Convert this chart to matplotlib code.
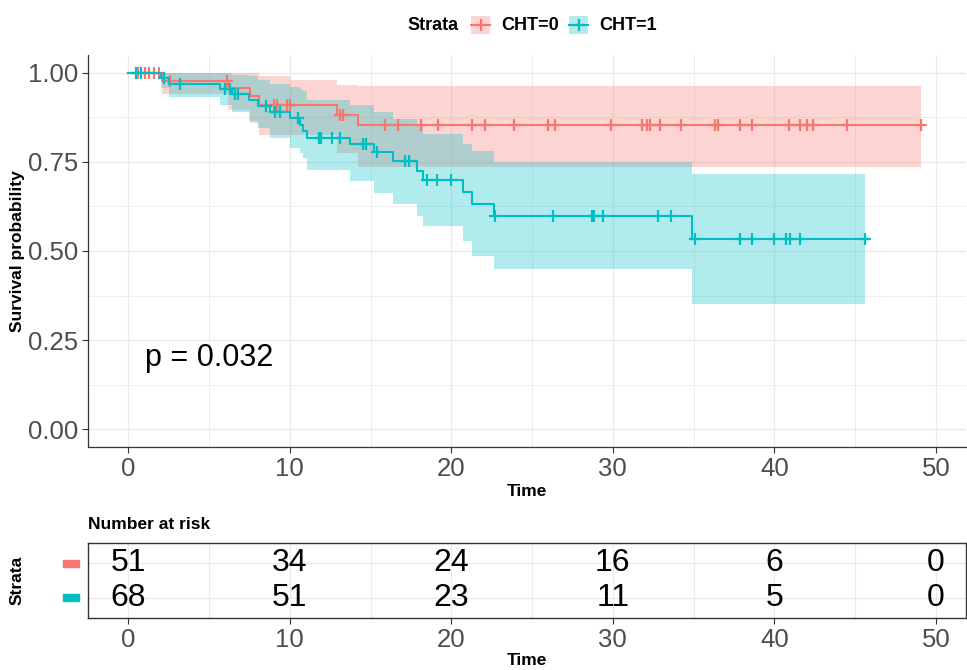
import matplotlib
matplotlib.use("Agg")
import matplotlib.pyplot as plt
from matplotlib.patches import Rectangle
from matplotlib.lines import Line2D
import numpy as np

plt.rcParams["font.family"] = ["Liberation Sans", "DejaVu Sans"]

RED = "#F8766D"
TEAL = "#00BFC4"

# CHT=0 survival curve (step times / survival)
red_time = [0, 2.1, 6.2, 7.55, 8.07, 12.9, 14.2, 49.1]
red_surv = [1.0, 0.978, 0.956, 0.934, 0.911, 0.882, 0.853, 0.853]
red_band_time = [0, 2.1, 6.2, 7.55, 8.07, 10.0, 12.9, 14.2, 49.1]
red_upper = [1.0, 1.0, 1.0, 1.0, 0.99, 0.98, 0.966, 0.963, 0.963]
red_lower = [1.0, 0.94, 0.895, 0.859, 0.826, 0.826, 0.775, 0.736, 0.736]
red_censor = [0.6, 1.0, 1.3, 1.6, 1.9, 2.6, 6.1, 9.0, 9.2, 9.8, 10.0, 13.1, 13.3,
              15.9, 16.7, 18.1, 19.2, 21.3, 22.1, 23.9, 26.0, 26.4, 29.9, 31.8,
              32.1, 32.3, 32.9, 34.2, 36.3, 36.5, 37.9, 38.6, 40.9, 41.6, 42.0,
              42.4, 44.5, 49.1]

# CHT=1 survival curve
teal_time = [0, 2.0, 2.5, 5.7, 6.4, 7.5, 8.0, 8.8, 10.0, 10.6, 10.8, 11.05, 13.7,
             15.2, 16.4, 17.9, 18.25, 20.75, 21.3, 22.65, 34.9, 45.6]
teal_surv = [1.0, 0.985, 0.970, 0.955, 0.940, 0.924, 0.906, 0.889, 0.872, 0.853,
             0.836, 0.818, 0.799, 0.777, 0.752, 0.725, 0.698, 0.666, 0.632, 0.598,
             0.533, 0.533]
teal_upper = [1.0, 1.0, 1.0, 1.0, 0.995, 0.99, 0.98, 0.97, 0.96, 0.955, 0.95,
              0.925, 0.91, 0.89, 0.87, 0.85, 0.827, 0.80, 0.78, 0.75, 0.715, 0.715]
teal_lower = [1.0, 0.956, 0.933, 0.91, 0.89, 0.865, 0.845, 0.817, 0.789, 0.775,
              0.761, 0.727, 0.696, 0.663, 0.631, 0.598, 0.570, 0.528, 0.486, 0.449,
              0.350, 0.350]
teal_censor = [0.5, 0.8, 2.2, 3.2, 6.0, 6.3, 6.6, 6.8, 8.5, 9.1, 9.4, 10.5, 11.8,
               11.95, 12.6, 13.1, 14.5, 14.7, 15.4, 17.1, 17.35, 18.5, 19.1, 20.0,
               22.7, 26.3, 28.7, 28.85, 29.4, 32.8, 33.6, 35.1, 37.9, 38.6, 40.0,
               40.7, 41.0, 41.6, 45.6]

risk_times = [0, 10, 20, 30, 40, 50]
risk_red = [51, 34, 24, 16, 6, 0]
risk_teal = [68, 51, 23, 11, 5, 0]

xlim = (-2.5, 51.87)
W, H = 967, 670
fig = plt.figure(figsize=(W / 100, H / 100), dpi=100)
ax = fig.add_axes([88 / W, (H - 447) / H, 878 / W, 392 / H])
rax = fig.add_axes([88 / W, (H - 618) / H, 878 / W, 75 / H])

grid_c = "#EBEBEB"
tick_c = "#4D4D4D"
tick_fs = 18.5


def surv_at(times, surv, t):
    i = np.searchsorted(times, t, side="right") - 1
    return np.asarray(surv)[i]


def draw_group(times, surv, btime, lo, hi, cens, col):
    ax.fill_between(btime, lo, hi, step="post", color=col, alpha=0.3, lw=0, zorder=2)
    ax.step(times, surv, where="post", color=col, lw=1.5, zorder=3)
    ax.plot(cens, surv_at(times, surv, cens), ls="none", marker="+", ms=9,
            mew=1.6, color=col, zorder=3)


draw_group(red_time, red_surv, red_band_time, red_lower, red_upper, red_censor, RED)
draw_group(teal_time, teal_surv, teal_time, teal_lower, teal_upper, teal_censor, TEAL)

ax.set_xlim(*xlim)
ax.set_ylim(-0.05, 1.05)
ax.set_xticks(range(0, 51, 10))
ax.set_xticks(range(5, 51, 10), minor=True)
ax.set_yticks([0, 0.25, 0.5, 0.75, 1.0])
ax.set_yticks([0.125, 0.375, 0.625, 0.875], minor=True)
ax.set_yticklabels(["0.00", "0.25", "0.50", "0.75", "1.00"])
ax.grid(which="major", color=grid_c, lw=1.0, zorder=0)
ax.grid(which="minor", color=grid_c, lw=0.6, zorder=0)
ax.set_axisbelow(True)
ax.tick_params(which="major", labelsize=tick_fs, labelcolor=tick_c, color="#333333",
               length=4, width=0.8, pad=3)
ax.tick_params(which="minor", length=0)
for s in ["top", "right"]:
    ax.spines[s].set_visible(False)
for s in ["left", "bottom"]:
    ax.spines[s].set_color("#333333")
    ax.spines[s].set_linewidth(0.9)
ax.set_xlabel("Time", fontsize=12.5, fontweight="bold")
ax.xaxis.set_label_coords(0.5, (447 - 484) / 392)
ax.set_ylabel("Survival probability", fontsize=12.5, fontweight="bold")
ax.yaxis.set_label_coords((25 - 88) / 878, 0.5)
ax.text(1.0, 0.2, "p = 0.032", fontsize=22, va="center", ha="left")

# legend across the top
fy = 1 - 25 / H
fig.text(407 / W, fy, "Strata", fontsize=13, fontweight="bold", va="center")
for x0, lab, col in [(471, "CHT=0", RED), (569, "CHT=1", TEAL)]:
    fig.patches.append(Rectangle((x0 / W, (H - 34) / H), 19 / W, 18 / H,
                                 transform=fig.transFigure, color=col, alpha=0.3, lw=0))
    fig.lines.append(Line2D([x0 / W, (x0 + 19) / W], [fy, fy], transform=fig.transFigure,
                            color=col, lw=1.5))
    fig.lines.append(Line2D([(x0 + 9.5) / W], [fy], transform=fig.transFigure,
                            color=col, marker="+", ms=9, mew=1.6))
    fig.text((x0 + 30) / W, fy, lab, fontsize=13, fontweight="bold", va="center")

# number at risk table
rax.set_xlim(*xlim)
rax.set_ylim(0.4, 2.6)
rax.set_xticks(range(0, 51, 10))
rax.set_xticks(range(5, 51, 10), minor=True)
rax.set_yticks([1, 2])
rax.set_yticklabels([])
rax.grid(which="both", axis="x", color=grid_c, lw=0.8)
rax.grid(which="major", axis="y", color=grid_c, lw=1.0)
rax.tick_params(axis="x", which="major", labelsize=tick_fs, labelcolor=tick_c,
                color="#333333", length=4, width=0.8, pad=3)
rax.tick_params(axis="x", which="minor", length=0)
rax.tick_params(axis="y", length=0)
for s in rax.spines.values():
    s.set_color("#333333")
    s.set_linewidth(1.0)
for t, a, b in zip(risk_times, risk_red, risk_teal):
    rax.text(t, 2, str(a), fontsize=23, ha="center", va="center")
    rax.text(t, 1, str(b), fontsize=23, ha="center", va="center")
for yv, col in [(2, RED), (1, TEAL)]:
    rax.add_patch(Rectangle((-25 / 878, yv - 0.1), 16 / 878, 0.2,
                            transform=rax.get_yaxis_transform(), color=col,
                            clip_on=False))
rax.set_xlabel("Time", fontsize=12.5, fontweight="bold")
rax.xaxis.set_label_coords(0.5, (618 - 653) / 75)
rax.set_ylabel("Strata", fontsize=12.5, fontweight="bold")
rax.yaxis.set_label_coords((25 - 88) / 878, 0.5)
rax.set_title("Number at risk", fontsize=12.5, fontweight="bold", loc="left", pad=10)

fig.savefig("out.png", dpi=100)
